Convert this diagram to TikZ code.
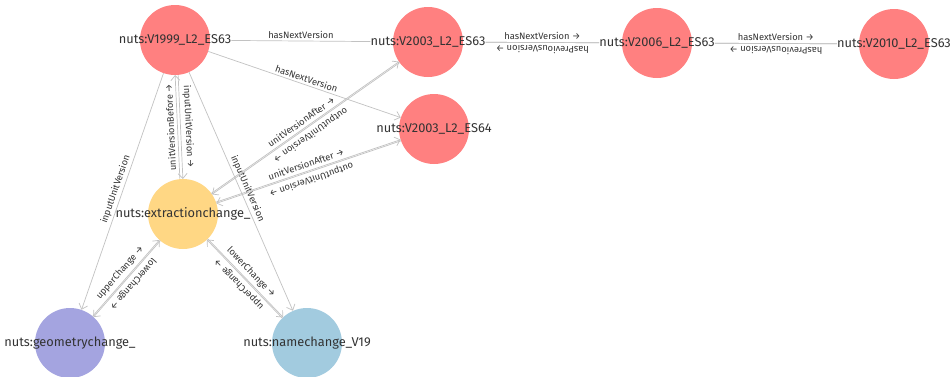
\documentclass[tikz,border=0pt]{standalone}
\usepackage{fontspec}
\setmainfont{Fira Sans}
\usetikzlibrary{arrows.meta,calc}
\definecolor{cred}{HTML}{FF8080}
\definecolor{cyel}{HTML}{FFD784}
\definecolor{cpur}{HTML}{A4A4E0}
\definecolor{cblu}{HTML}{A2CBDF}
\definecolor{cedge}{HTML}{C2C2C2}
\definecolor{ctext}{HTML}{333333}
\begin{document}
\begin{tikzpicture}[x=1pt,y=-1pt,
  ent/.style={circle, minimum size=70pt, inner sep=0pt, draw=none},
  lbl/.style={inner sep=0pt, font=\fontsize{12.8}{14}\selectfont, text=ctext},
  edge/.style={draw=cedge, line width=0.7pt, -{Straight Barb[length=5pt,width=9pt]}},
  plain/.style={draw=cedge, line width=0.7pt},
  elbl/.style={font=\fontsize{9.3}{10}\selectfont, text=ctext, sloped, above, inner sep=2.2pt, midway},
  rev/.style={elbl, allow upside down, inner sep=3pt},
  pair/.style={to path={($(\tikztostart)!#1!90:(\tikztotarget)$) -- ($(\tikztotarget)!#1!-90:(\tikztostart)$) \tikztonodes}, shorten <=35pt, shorten >=35pt},
  pair/.default=0.6pt
]
\useasboundingbox (0,0) rectangle (950,376);
\fill[white] (0,0) rectangle (950,376);

% circles
\node[ent, fill=cred] (v1999) at (175,40) {};
\node[ent, fill=cred] (v2003a) at (428,42) {};
\node[ent, fill=cred] (v2006) at (657,43) {};
\node[ent, fill=cred] (v2010) at (894,44) {};
\node[ent, fill=cred] (v2003b) at (434,129) {};
\node[ent, fill=cyel] (extr) at (183,214) {};
\node[ent, fill=cpur] (geom) at (70,343) {};
\node[ent, fill=cblu] (name) at (307,343) {};

% labels
\node[lbl] (v1999t) at (v1999) {nuts:V1999\_L2\_ES63};
\node[lbl] (v2003at) at (v2003a) {nuts:V2003\_L2\_ES63};
\node[lbl] (v2006t) at (v2006) {nuts:V2006\_L2\_ES63};
\node[lbl] (v2010t) at (v2010) {nuts:V2010\_L2\_ES63};
\node[lbl] (v2003bt) at (v2003b) {nuts:V2003\_L2\_ES64};
\node[lbl] (extrt) at (extr) {nuts:extractionchange\_};
\node[lbl] (geomt) at (geom) {nuts:geometrychange\_};
\node[lbl] (namet) at (name) {nuts:namechange\_V19};

% horizontal edges
\draw[plain] (v1999t) -- node[elbl]{hasNextVersion} (v2003at);
\draw[plain] (v2003at) -- node[elbl]{hasNextVersion →} (v2006t);
\draw[plain] (v2006t) -- node[rev]{hasPreviousVersion →} (v2003at);
\draw[plain] (v2006t) -- node[elbl]{hasNextVersion →} (v2010t);
\draw[plain] (v2010t) -- node[rev]{hasPreviousVersion →} (v2006t);

% single edges
\draw[edge] (v1999) -- node[elbl]{hasNextVersion} (v2003b);
\draw[edge] (v1999) -- node[elbl]{inputUnitVersion} (geom);
\draw[edge] (v1999) -- node[elbl]{inputUnitVersion} (name);

% paired edges
\draw[edge, pair=1.5pt] (extr) to node[rev]{unitVersionBefore →} (v1999);
\draw[edge, pair=1.5pt] (v1999) to node[rev]{inputUnitVersion →} (extr);
\draw[edge, pair] (extr) to node[rev]{unitVersionAfter →} (v2003a);
\draw[edge, pair] (v2003a) to node[rev]{outputUnitVersion →} (extr);
\draw[edge, pair] (extr) to node[rev]{unitVersionAfter →} (v2003b);
\draw[edge, pair] (v2003b) to node[rev]{outputUnitVersion →} (extr);
\draw[edge, pair] (geom) to node[rev]{upperChange →} (extr);
\draw[edge, pair] (extr) to node[rev]{lowerChange →} (geom);
\draw[edge, pair] (extr) to node[rev]{lowerChange →} (name);
\draw[edge, pair] (name) to node[rev]{upperChange →} (extr);
\end{tikzpicture}
\end{document}
